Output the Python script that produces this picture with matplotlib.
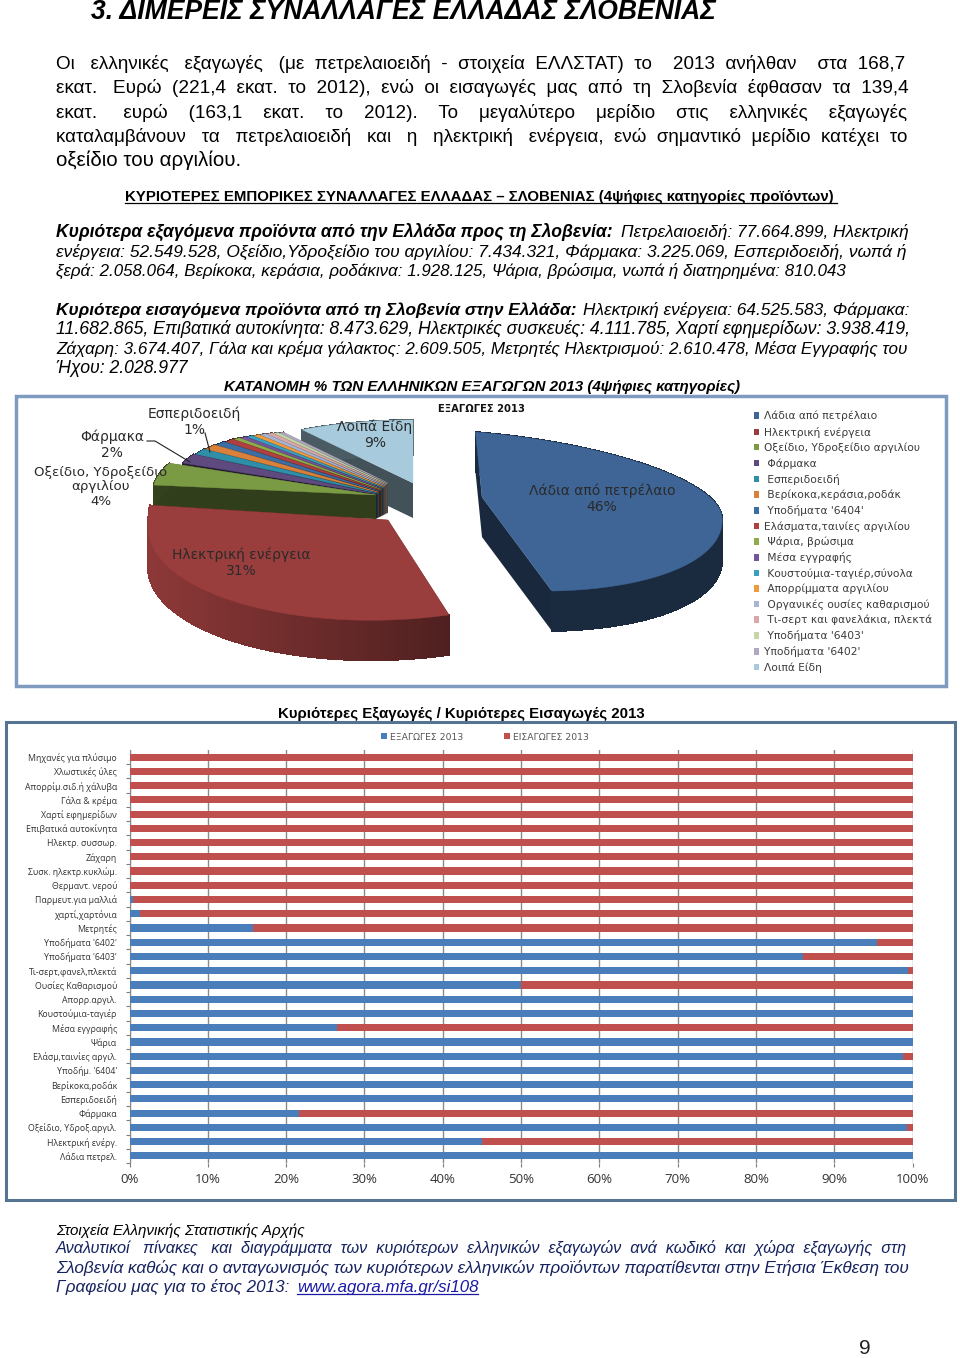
import numpy as np
import matplotlib
matplotlib.use("Agg")
import matplotlib.pyplot as plt
from matplotlib.patches import Rectangle, Polygon, Patch
from matplotlib.collections import PolyCollection

W, H = 960, 1358
plt.rcParams['font.family'] = ['Liberation Sans', 'DejaVu Sans']

# ---------- DATA ----------
pie_names = ["Λάδια από πετρέλαιο", "Ηλεκτρική ενέργεια", "Οξείδιο, Υδροξείδιο αργιλίου", " Φάρμακα",
             " Εσπεριδοειδή", " Βερίκοκα,κεράσια,ροδάκ", " Υποδήματα '6404'", "Ελάσματα,ταινίες αργιλίου",
             " Ψάρια, βρώσιμα", " Μέσα εγγραφής", " Κουστούμια-ταγιέρ,σύνολα", " Απορρίμματα αργιλίου",
             " Οργανικές ουσίες καθαρισμού", " Τι-σερτ και φανελάκια, πλεκτά", " Υποδήματα '6403'",
             "Υποδήματα '6402'", "Λοιπά Είδη"]
pie_values = [46.0, 31.1, 4.4, 1.9, 1.2, 1.1, 0.9, 0.8, 0.5, 0.5, 0.5, 0.5, 0.5, 0.5, 0.4, 0.4, 9.0]

bar_names = ["Λάδια πετρελ.", "Ηλεκτρική ενέργ.", "Οξείδιο, Υδροξ.αργιλ.", "Φάρμακα", "Εσπεριδοειδή",
             "Βερίκοκα,ροδάκ", "Υποδήμ. '6404'", "Ελάσμ,ταινίες αργιλ.", "Ψάρια", "Μέσα εγγραφής",
             "Κουστούμια-ταγιέρ", "Απορρ.αργιλ.", "Ουσίες Καθαρισμού", "Τι-σερτ,φανελ,πλεκτά",
             "Υποδήματα '6403'", "Υποδήματα '6402'", "Μετρητές", "χαρτί,χαρτόνια", "Παρμευτ.για μαλλιά",
             "Θερμαντ. νερού", "Συσκ. ηλεκτρ.κυκλώμ.", "Ζάχαρη", "Ηλεκτρ. συσσωρ.", "Επιβατικά αυτοκίνητα",
             "Χαρτί εφημερίδων", "Γάλα & κρέμα", "Απορρίμ.σιδ.ή χάλυβα", "Χλωστικές ύλες", "Μηχανές για πλύσιμο"]
exports_pct = [100, 45, 99.3, 21.6, 100, 100, 100, 98.8, 100, 26.5, 100, 100, 50, 99.4, 86, 95.4, 15.8,
               1.4, 0.4, 0, 0, 0, 0, 0, 0, 0, 0, 0, 0]
imports_pct = [100 - v for v in exports_pct]
x_ticks = [0, 10, 20, 30, 40, 50, 60, 70, 80, 90, 100]

# ---------- STYLE ----------
pie_colors = ["#3E6596", "#9A3D3D", "#7A9A44", "#5F4A7F", "#2F8FA8", "#D9813A", "#3A6EA5", "#B04040",
              "#8FAC4A", "#73559A", "#3AA0BF", "#F09A3E", "#A6B4D6", "#D8A8A8", "#C5D6A8", "#B0A8C0", "#A7CBDC"]
n_fan = 14
fan_ax = np.linspace(376, 388, n_fan)
fan_ay = np.linspace(495, 483, n_fan)
fan_rx = np.linspace(212, 195, n_fan)
fan_rx[0] = 224
fan_ry = np.linspace(82, 60, n_fan)
fan_dp = np.linspace(24, 30, n_fan)
# apex x, apex y, rx, ry back, ry front, y shear, x shear, depth, side shade left, side shade right
geom = [(482, 497, 240, 65, 92, 0.083, 0.1, 40, 0.42, 0.42),
        (388, 520, 240, 180, 100, -0.03, 0, 40, 0.92, 0.52)]
for i in range(n_fan):
    geom.append((fan_ax[i], fan_ay[i], fan_rx[i], fan_ry[i], fan_ry[i], 0, 0, fan_dp[i], 0.42, 0.42))
geom.append((413, 483, 207, 63, 63, 0, 0, 35, 0.45, 0.45))

fig = plt.figure(figsize=(W / 100, H / 100), dpi=100, facecolor="white")
page = fig.add_axes([0, 0, 1, 1])
page.set_xlim(0, W)
page.set_ylim(H, 0)
page.axis("off")
renderer = fig.canvas.get_renderer()


def width(t):
    return t.get_window_extent(renderer).width


def fit(s, x0, x1, y, size, justify=True, **kw):
    t = page.text(x0, y, s, fontsize=size, va="baseline", ha="left", **kw)
    target = x1 - x0
    w = width(t)
    words = s.split(" ")
    gaps = len(words) - 1
    if justify and gaps and w < target * 0.94:
        extra = int(round((target - w) / (size * 100 / 72 * 0.278)))
        each, rest = divmod(extra, gaps)
        out = words[0]
        for k, word in enumerate(words[1:]):
            out += " " * (1 + each + (1 if k < rest else 0)) + word
        t.set_text(out)
    for _ in range(3):
        t.set_fontsize(t.get_fontsize() * target / width(t))
    return t


# ---------- PAGE TEXT ----------
fit("3. ΔΙΜΕΡΕΙΣ ΣΥΝΑΛΛΑΓΕΣ ΕΛΛΑΔΑΣ ΣΛΟΒΕΝΙΑΣ", 91, 716, 19, 19, weight="bold", style="italic")

body = [("Οι ελληνικές εξαγωγές (με πετρελαιοειδή - στοιχεία ΕΛΛΣΤΑΤ) το  2013 ανήλθαν  στα 168,7", 907, 69),
        ("εκατ. Ευρώ (221,4 εκατ. το 2012), ενώ οι εισαγωγές μας από τη Σλοβενία έφθασαν τα 139,4", 907, 93),
        ("εκατ. ευρώ (163,1 εκατ. το 2012). Το μεγαλύτερο μερίδιο στις ελληνικές εξαγωγές", 907, 118),
        ("καταλαμβάνουν τα πετρελαιοειδή και η ηλεκτρική ενέργεια, ενώ σημαντικό μερίδιο κατέχει το", 907, 142)]
for s, x1, y in body:
    fit(s, 56, x1, y, 13.6)
fit("οξείδιο του αργιλίου.", 56, 241, 166, 13.6, justify=False)

fit("ΚΥΡΙΟΤΕΡΕΣ ΕΜΠΟΡΙΚΕΣ ΣΥΝΑΛΛΑΓΕΣ ΕΛΛΑΔΑΣ – ΣΛΟΒΕΝΙΑΣ (4ψήφιες κατηγορίες προϊόντων)", 125, 837, 201, 10.6,
    weight="bold")
page.plot([125, 837], [203, 203], color="black", lw=0.9)

fit("Κυριότερα εξαγόμενα προϊόντα από την Ελλάδα προς τη Σλοβενία:", 56, 615, 237, 12, weight="bold", style="italic")
fit("Πετρελαιοειδή: 77.664.899, Ηλεκτρική", 621, 907, 237, 12, style="italic")
fit("Κυριότερα εισαγόμενα προϊόντα από τη Σλοβενία στην Ελλάδα:", 56, 578, 315, 12, weight="bold", style="italic")
fit("Ηλεκτρική ενέργεια: 64.525.583, Φάρμακα:", 583, 908, 315, 12, style="italic")
italics = [("ενέργεια: 52.549.528, Οξείδιο,Υδροξείδιο του αργιλίου: 7.434.321, Φάρμακα: 3.225.069, Εσπεριδοειδή, νωπά ή", 907, 257),
           ("ξερά: 2.058.064, Βερίκοκα, κεράσια, ροδάκινα: 1.928.125, Ψάρια, βρώσιμα, νωπά ή διατηρημένα: 810.043", 847, 276),
           ("11.682.865, Επιβατικά αυτοκίνητα: 8.473.629, Ηλεκτρικές συσκευές: 4.111.785, Χαρτί εφημερίδων: 3.938.419,", 907, 334),
           ("Ζάχαρη: 3.674.407, Γάλα και κρέμα γάλακτος: 2.609.505, Μετρητές Ηλεκτρισμού: 2.610.478, Μέσα Εγγραφής του", 907, 354),
           ("Ήχου: 2.028.977", 188, 373)]
for s, x1, y in italics:
    fit(s, 56, x1, y, 12, style="italic")
fit("ΚΑΤΑΝΟΜΗ % ΤΩΝ ΕΛΛΗΝΙΚΩΝ ΕΞΑΓΩΓΩΝ 2013 (4ψήφιες κατηγορίες)", 224, 741, 391, 11, weight="bold", style="italic")
fit("Κυριότερες Εξαγωγές / Κυριότερες Εισαγωγές 2013", 278, 644, 718, 11, weight="bold")

fit("Στοιχεία Ελληνικής Στατιστικής Αρχής", 56, 303, 1235, 11.5, style="italic")
navy = "#16235F"
fit("Αναλυτικοί πίνακες και διαγράμματα των κυριότερων ελληνικών εξαγωγών ανά κωδικό και χώρα εξαγωγής στη", 56, 907, 1253, 11.6, style="italic", color=navy)
fit("Σλοβενία καθώς και ο ανταγωνισμός των κυριότερων ελληνικών προϊόντων παρατίθενται στην Ετήσια Έκθεση του", 56, 907, 1273, 12, style="italic", color=navy)
fit("Γραφείου μας για το έτος 2013:", 56, 289, 1292, 12, style="italic", color=navy)
fit("www.agora.mfa.gr/si108", 297, 478, 1292, 11.5, style="italic", color="#1A1AA6")
page.plot([297, 478], [1294, 1294], color="#1A1AA6", lw=0.9)
page.text(865, 1354, "9", fontsize=15, ha="center", va="baseline", color="#222222")

# frames
page.add_patch(Rectangle((16, 396), 930, 290, fc="white", ec="#7F9CC0", lw=2.5))
page.add_patch(Rectangle((6, 722), 949, 478, fc="white", ec="#567492", lw=2.2))

# ---------- PIE ----------
ax_pie = fig.add_axes([18 / W, 1 - 684 / H, 926 / W, 286 / H])
ax_pie.set_xlim(18, 944)
ax_pie.set_ylim(684, 398)
ax_pie.axis("off")

edges = np.concatenate([[0], np.cumsum(pie_values)]) / np.sum(pie_values) * 2 * np.pi


def rgb_scale(c, f):
    return tuple(min(1, v * f) for v in matplotlib.colors.to_rgb(c))


for i in range(len(pie_values) - 1, -1, -1):
    ax0, ay0, rx, ryb, ryf, shear, xshear, depth, sl, sr = geom[i]
    th = np.linspace(edges[i], edges[i + 1], max(3, int((edges[i + 1] - edges[i]) * 60)))
    dx = rx * np.sin(th)
    c = np.cos(th)
    dy = -c * np.where(c > 0, ryb, ryf)
    xs = ax0 + dx + xshear * dy
    ys = ay0 + dy + shear * dx
    col = pie_colors[i]
    # cut faces
    for j in (0, -1):
        ax_pie.add_patch(Polygon([(ax0, ay0), (xs[j], ys[j]), (xs[j], ys[j] + depth), (ax0, ay0 + depth)],
                                 fc=rgb_scale(col, 0.40), ec="none", zorder=2 * (20 - i)))
    # outer rim
    left = (xs.max() - xs) / max(1, xs.max() - xs.min())
    quads, cols = [], []
    for k in range(len(th) - 1):
        quads.append([(xs[k], ys[k]), (xs[k + 1], ys[k + 1]), (xs[k + 1], ys[k + 1] + depth), (xs[k], ys[k] + depth)])
        f = sr + (sl - sr) * left[k]
        cols.append(rgb_scale(col, f))
    ax_pie.add_collection(PolyCollection(quads, facecolors=cols, edgecolors=cols, linewidths=0.6,
                                         antialiaseds=False, zorder=2 * (20 - i)))
    # top face
    ax_pie.add_patch(Polygon(np.column_stack([np.r_[ax0, xs], np.r_[ay0, ys]]), fc=col, ec=col, lw=0.3,
                             zorder=2 * (20 - i) + 1))

pie_font = dict(family="DejaVu Sans", fontsize=10, color="#2A2A2A", ha="center", va="center", linespacing=1.15, zorder=60)
ax_pie.text(602, 499, "Λάδια από πετρέλαιο\n46%", **pie_font)
ax_pie.text(241, 563, "Ηλεκτρική ενέργεια\n31%", **pie_font)
ax_pie.text(101, 487, "Οξείδιο, Υδροξείδιο\nαργιλίου\n4%", **{**pie_font, "fontsize": 9.6})
ax_pie.text(112, 445, "Φάρμακα\n2%", **pie_font)
ax_pie.text(194, 422, "Εσπεριδοειδή\n1%", **pie_font)
ax_pie.text(375, 435, "Λοιπά Είδη\n9%", **pie_font)
ax_pie.plot([147, 155, 190], [441, 441, 462], color="#222222", lw=0.8, zorder=59)
ax_pie.plot([205, 210], [433, 452], color="#222222", lw=0.8, zorder=59)
ax_pie.text(481, 409, "ΕΞΑΓΩΓΕΣ 2013", family="DejaVu Sans", fontsize=7.2, weight="bold", color="#111111",
            ha="center", va="center", zorder=60)
ax_pie.legend(handles=[Patch(fc=c, ec="none", label=n) for c, n in zip(pie_colors, pie_names)],
              loc="upper left", bbox_to_anchor=(753.5, 411), bbox_transform=ax_pie.transData,
              frameon=False, prop={"family": "DejaVu Sans", "size": 7.7}, labelcolor="#3A3A3A",
              handlelength=0.55, handleheight=0.55, handletextpad=0.45, labelspacing=0.47,
              borderpad=0, borderaxespad=0)

# ---------- BARS ----------
ax_bar = fig.add_axes([129.5 / W, 1 - 1163 / H, (912.7 - 129.5) / W, (1163 - 750) / H])
y = np.arange(len(bar_names))
ax_bar.barh(y, exports_pct, height=0.5, color="#4A7EBB", label="ΕΞΑΓΩΓΕΣ 2013", zorder=3)
ax_bar.barh(y, imports_pct, left=exports_pct, height=0.5, color="#C0504D", label="ΕΙΣΑΓΩΓΕΣ 2013", zorder=3)
ax_bar.set_xlim(0, 100)
ax_bar.set_ylim(-0.5, len(bar_names) - 0.5)
ax_bar.set_xticks(x_ticks)
ax_bar.set_xticklabels([f"{v}%" for v in x_ticks], fontsize=9.5, color="#333333", family="Open Sans")
ax_bar.set_yticks(y - 0.5, minor=False)
ax_bar.set_yticklabels([""] * len(y))
ax_bar.set_yticks(y, labels=bar_names, minor=True, fontsize=6.3, color="#333333", family="Open Sans")
ax_bar.tick_params(axis="y", which="minor", length=0, pad=9)
ax_bar.tick_params(axis="y", which="major", length=3, color="#7F7F7F", width=0.8)
ax_bar.tick_params(axis="x", length=3, color="#7F7F7F", width=0.8, pad=4)
ax_bar.grid(axis="x", color="#8A8A8A", lw=1, zorder=0)
for side in ("top", "right", "bottom"):
    ax_bar.spines[side].set_visible(False)
ax_bar.spines["left"].set_color("#8A8A8A")
ax_bar.patch.set_alpha(0)
ax_bar.legend(loc="center", bbox_to_anchor=(485, 737), bbox_transform=page.transData, ncols=2, frameon=False,
              prop={"family": "DejaVu Sans", "size": 6.7}, labelcolor="#555555", handlelength=0.7, handleheight=0.6,
              handletextpad=0.35, columnspacing=4.3, borderpad=0)

fig.savefig("out.png", dpi=100, facecolor="white")
